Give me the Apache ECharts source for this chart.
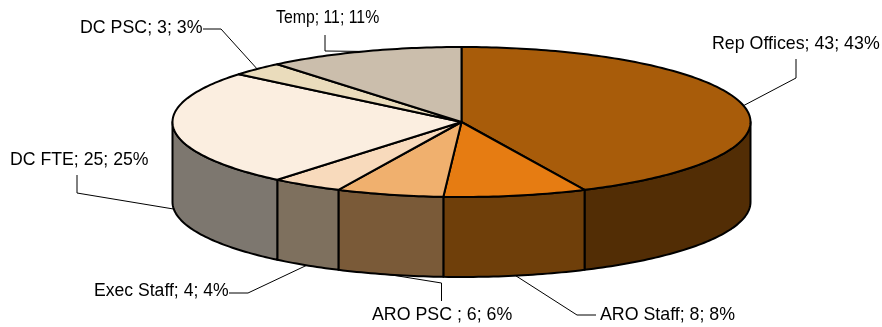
<!DOCTYPE html>
<html>
<head>
<meta charset="utf-8">
<title>Staff pie</title>
<script src="https://cdn.jsdelivr.net/npm/echarts@6/dist/echarts.min.js"></script>
<style>
  html, body { margin: 0; padding: 0; background: #fff; }
  #chart { width: 882px; height: 327px; }
</style>
</head>
<body>
<div id="chart"></div>
<script>
const sliceNames = ['Rep Offices', 'ARO Staff', 'ARO PSC ', 'Exec Staff', 'DC FTE', 'DC PSC', 'Temp'];
const sliceValues = [43, 8, 6, 4, 25, 3, 11];

const topColors = ['#a85c0a', '#e67c12', '#f0b06e', '#f8dabc', '#fbeee0', '#eadcbc', '#cbbeac'];
const wallColors = ['#522d05', '#6f3f0a', '#7a5a38', '#7e705e', '#7d776f', '#75705e', '#66605a'];

// ellipse of the pie top, in pixels
const pie = { cx: 461.5, cy: 122, rx: 289, ry: 75, depth: 80 };

// where each label starts and the elbow of its leader line
const labelX = [712, 600, 372, 94, 10, 80, 276];
const labelY = [44, 315, 315, 291, 160, 28, 18];
const labelSize = [17.8, 17.8, 17.8, 17.6, 17.7, 17.8, 17.8];
// the Temp label is squeezed in the reference, its digits overlap
const labelSqueeze = [1, 1, 1, 1, 1, 1, 0.89];
const elbowPoints = [
  [[796, 59], [796, 78]],
  [[596, 315], [577, 315]],
  [[441.5, 301], [441.5, 283]],
  [[229, 293], [248, 293]],
  [[77, 175], [77, 193]],
  [[203, 29], [221, 29]],
  [[325, 35], [325, 51]]
];

const total = sliceValues.reduce((a, b) => a + b, 0);

// angle in radians, clockwise from 12 o'clock
function angleAt(share) {
  return share / total * Math.PI * 2;
}
function rim(a, drop) {
  return [pie.cx + pie.rx * Math.sin(a), pie.cy - pie.ry * Math.cos(a) + (drop || 0)];
}
function startShare(index) {
  return sliceValues.slice(0, index).reduce((a, b) => a + b, 0);
}
function arcPoints(a0, a1, drop) {
  const steps = Math.max(2, Math.ceil((a1 - a0) / (Math.PI / 180)));
  const pts = [];
  for (let i = 0; i <= steps; i++) {
    pts.push(rim(a0 + (a1 - a0) * i / steps, drop));
  }
  return pts;
}

function renderSlice(params, api) {
  const i = params.dataIndex;
  const a0 = angleAt(startShare(i));
  const a1 = angleAt(startShare(i) + api.value(0));
  const children = [];
  // only the front half of the wall can be seen
  const w0 = Math.max(a0, Math.PI / 2);
  const w1 = Math.min(a1, Math.PI * 1.5);
  if (w1 > w0) {
    const wall = arcPoints(w0, w1, 0).concat(arcPoints(w0, w1, pie.depth).reverse());
    children.push({
      type: 'polygon',
      shape: { points: wall },
      style: { fill: wallColors[i], stroke: '#000', lineWidth: 2, lineJoin: 'round' }
    });
  }
  children.push({
    type: 'polygon',
    shape: { points: [[pie.cx, pie.cy]].concat(arcPoints(a0, a1, 0)) },
    style: { fill: topColors[i], stroke: '#000', lineWidth: 2, lineJoin: 'round' }
  });
  return { type: 'group', silent: true, children: children };
}

function renderLabel(params, api) {
  const i = params.dataIndex;
  const v = api.value(0);
  const mid = angleAt(startShare(i) + v / 2);
  const onFront = Math.cos(mid) < 0;
  const anchor = rim(mid, onFront ? pie.depth : 0);
  const pct = Math.round(v / total * 100);
  return {
    type: 'group',
    silent: true,
    children: [
      {
        type: 'polyline',
        shape: { points: elbowPoints[i].concat([anchor]) },
        style: { fill: null, stroke: '#000', lineWidth: 1 }
      },
      {
        type: 'text',
        x: labelX[i],
        y: labelY[i],
        scaleX: labelSqueeze[i],
        style: {
          text: sliceNames[i] + '; ' + v + '; ' + pct + '%',
          fill: '#000',
          font: labelSize[i] + 'px "Liberation Sans", Arial, sans-serif',
          textAlign: 'left',
          textVerticalAlign: 'middle'
        }
      }
    ]
  };
}

const chart = echarts.init(document.getElementById('chart'), null, { renderer: 'canvas' });
chart.setOption({
  animation: false,
  backgroundColor: '#fff',
  series: [
    {
      type: 'custom',
      coordinateSystem: 'none',
      z: 1,
      renderItem: renderLabel,
      data: sliceValues.map(v => [v])
    },
    {
      type: 'custom',
      coordinateSystem: 'none',
      z: 2,
      renderItem: renderSlice,
      data: sliceValues.map(v => [v])
    }
  ]
});
</script>
</body>
</html>
